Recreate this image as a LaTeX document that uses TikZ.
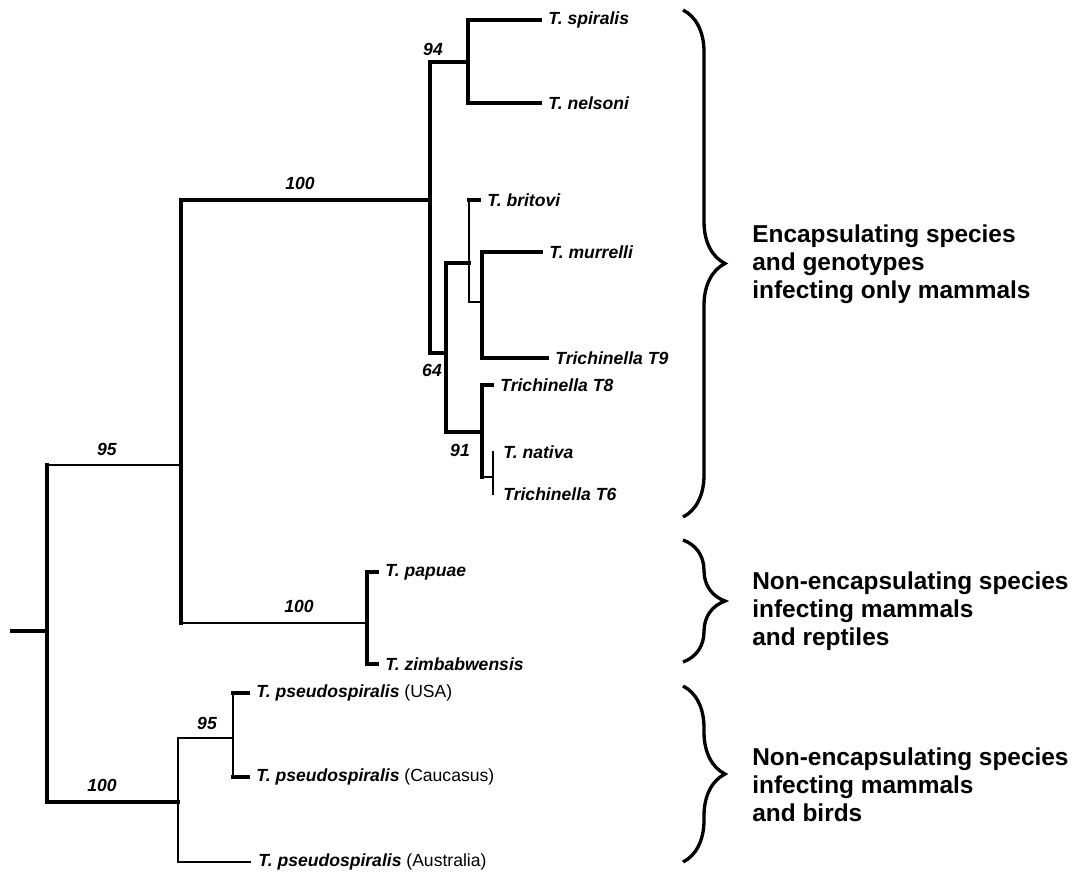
\documentclass[tikz,border=0pt]{standalone}
\usepackage{fontspec}
\setmainfont{Liberation Sans}
\usetikzlibrary{decorations.pathreplacing}
\tikzstyle{br}=[line width=2.3pt, line cap=rect]
\tikzstyle{tw}=[line width=1.2pt, line cap=rect]
\tikzstyle{taxon}=[anchor=west, inner sep=0pt, xshift=0.16cm, font=\bfseries\itshape\fontsize{10}{12}\selectfont]
\tikzstyle{boot}=[inner sep=0pt, font=\bfseries\itshape\fontsize{10}{12}\selectfont]
\tikzstyle{curly}=[decorate, decoration={brace, amplitude=0.84cm}, line width=1.9pt]
\tikzstyle{group}=[anchor=west, align=left, inner sep=0pt, font=\bfseries\fontsize{13.9}{15.9}\selectfont]

\begin{document}
\begin{tikzpicture}[x=0.02cm, y=-0.02cm]
    \useasboundingbox (0,0) rectangle (1074,872);

    % internal nodes
    \coordinate (r0) at (12,631);
    \coordinate (root) at (47,631);
    \coordinate (A) at (181,465);
    \coordinate (I) at (178,802);
    \coordinate (B) at (430,200);
    \coordinate (P) at (367,623);
    \coordinate (C) at (468,62);
    \coordinate (D) at (446,353);
    \coordinate (E) at (469,263);
    \coordinate (F) at (482,302);
    \coordinate (G) at (482,432);
    \coordinate (H) at (493,477);
    \coordinate (J) at (233,738);

    % tips
    \coordinate (spi) at (540,20);
    \coordinate (nel) at (540,103);
    \coordinate (bri) at (479,200);
    \coordinate (mur) at (541,252);
    \coordinate (t9) at (547,358);
    \coordinate (t8) at (492,385);
    \coordinate (nat) at (495,452);
    \coordinate (t6) at (495,494);
    \coordinate (pap) at (377,572);
    \coordinate (zim) at (377,664);
    \coordinate (usa) at (248,693);
    \coordinate (cau) at (248,777);
    \coordinate (aus) at (250,862);

    % branches
    \draw[br] (r0) -- (root);
    \draw[br] (root |- A) -- (root |- I);
    \draw[tw] (root |- A) -- (A);
    \draw[br] (root |- I) -- (I);

    \draw[br] (A |- B) -- (A |- P);
    \draw[br] (A |- B) -- (B);
    \draw[tw] (A |- P) -- (P);

    \draw[br] (P |- pap) -- (P |- zim);
    \draw[br] (P |- pap) -- (pap);
    \draw[br] (P |- zim) -- (zim);

    \draw[br] (B |- C) -- (B |- D);
    \draw[br] (B |- C) -- (C);
    \draw[br] (B |- D) -- (D);

    \draw[br] (C |- spi) -- (C |- nel);
    \draw[br] (C |- spi) -- (spi);
    \draw[br] (C |- nel) -- (nel);

    \draw[br] (D |- E) -- (D |- G);
    \draw[br] (D |- E) -- (E);
    \draw[br] (D |- G) -- (G);

    \draw[tw] (E |- bri) -- (E |- F);
    \draw[br] (E |- bri) -- (bri);
    \draw[tw] (E |- F) -- (F);

    \draw[br] (F |- mur) -- (F |- t9);
    \draw[br] (F |- mur) -- (mur);
    \draw[br] (F |- t9) -- (t9);

    \draw[br] (G |- t8) -- (G |- H);
    \draw[br] (G |- t8) -- (t8);
    \draw[tw] (G |- H) -- (H);

    \draw[tw] (H |- nat) -- (H |- t6);

    \draw[tw] (I |- J) -- (I |- aus);
    \draw[tw] (I |- J) -- (J);
    \draw[tw] (I |- aus) -- (aus);

    \draw[tw] (J |- usa) -- (J |- cau);
    \draw[br] (J |- usa) -- (usa);
    \draw[br] (J |- cau) -- (cau);

    % support values
    \node[boot] (b1) at (107,449) {95};
    \node[boot] (b2) at (300,183) {100};
    \node[boot] (b3) at (299,606) {100};
    \node[boot] (b4) at (433,49) {94};
    \node[boot] (b5) at (432,370) {64};
    \node[boot] (b6) at (460,450) {91};
    \node[boot] (b7) at (102,785) {100};
    \node[boot] (b8) at (207,723) {95};

    % taxa
    \node[taxon] (lspi) at (spi) {T. spiralis};
    \node[taxon] (lnel) at (nel) {T. nelsoni};
    \node[taxon] (lbri) at (bri) {T. britovi};
    \node[taxon] (lmur) at (mur) {T. murrelli};
    \node[taxon] (lt9) at (t9) {Trichinella T9};
    \node[taxon] (lt8) at (t8) {Trichinella T8};
    \node[taxon] (lnat) at (nat) {T. nativa};
    \node[taxon] (lt6) at (t6) {Trichinella T6};
    \node[taxon] (lpap) at (pap) {T. papuae};
    \node[taxon] (lzim) at (zim) {T. zimbabwensis};
    \node[taxon] (lusa) at (usa) {T. pseudospiralis {\mdseries\upshape(USA)}};
    \node[taxon] (lcau) at (cau) {T. pseudospiralis {\mdseries\upshape(Caucasus)}};
    \node[taxon] (laus) at (aus) {T. pseudospiralis {\mdseries\upshape(Australia)}};

    % groups
    \coordinate (g1a) at (683,10);
    \coordinate (g1b) at (683,517);
    \coordinate (g2a) at (683,540);
    \coordinate (g2b) at (683,662);
    \coordinate (g3a) at (683,686);
    \coordinate (g3b) at (683,862);
    \draw[curly] (g1a) -- (g1b);
    \draw[curly] (g2a) -- (g2b);
    \draw[curly] (g3a) -- (g3b);

    \node[group] (t1) at (752,264) {Encapsulating species\\and genotypes\\infecting only mammals};
    \node[group] (t2) at (752,611) {Non-encapsulating species\\infecting mammals\\and reptiles};
    \node[group] (t3) at (752,785) {Non-encapsulating species\\infecting mammals\\and birds};

\end{tikzpicture}
\end{document}
